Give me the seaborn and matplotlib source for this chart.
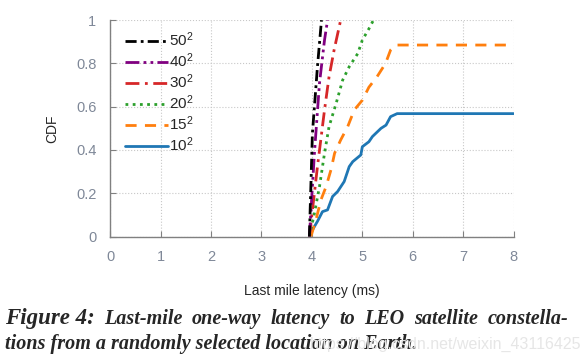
import pandas as pd
import matplotlib.pyplot as plt
import seaborn as sns

# CDF points, one pair of lists per constellation size
x_10 = [3.96, 4.01, 4.11, 4.21, 4.31, 4.41, 4.51, 4.64, 4.74, 4.81, 4.97, 5.0, 5.13, 5.2, 5.37, 5.47, 5.56, 5.69, 8.0]
y_10 = [0, 0.03, 0.07, 0.115, 0.123, 0.185, 0.208, 0.254, 0.323, 0.346, 0.377, 0.415, 0.438, 0.462, 0.5, 0.515, 0.554, 0.568, 0.568]
x_15 = [3.98, 4.08, 4.18, 4.28, 4.38, 4.45, 4.57, 4.71, 4.84, 5.0, 5.13, 5.29, 5.46, 5.56, 5.66, 8.0]
y_15 = [0, 0.077, 0.17, 0.23, 0.31, 0.385, 0.446, 0.508, 0.585, 0.63, 0.69, 0.738, 0.8, 0.862, 0.885, 0.885]
x_20 = [3.95, 4.05, 4.15, 4.25, 4.34, 4.48, 4.61, 4.74, 4.91, 5.0, 5.13, 5.22]
y_20 = [0, 0.108, 0.23, 0.385, 0.508, 0.615, 0.723, 0.785, 0.846, 0.908, 0.96, 1.0]
x_30 = [3.95, 4.11, 4.25, 4.34, 4.44, 4.57]
y_30 = [0, 0.323, 0.585, 0.738, 0.862, 1.0]
x_40 = [3.95, 4.05, 4.15, 4.25, 4.31]
y_40 = [0, 0.385, 0.708, 0.908, 1.0]
x_50 = [3.95, 4.01, 4.11, 4.19]
y_50 = [0, 0.477, 0.785, 1.0]

labels = ['$10^2$', '$15^2$', '$20^2$', '$30^2$', '$40^2$', '$50^2$']
xs = [x_10, x_15, x_20, x_30, x_40, x_50]
ys = [y_10, y_15, y_20, y_30, y_40, y_50]
colors = ['#1f77b4', '#ff7f0e', '#2ca02c', '#d62728', '#800080', '#000000']
dashes = [(None, None), (4, 3), (1, 1.6), (5, 2, 1, 2), (5, 1.5, 1, 1.5, 1, 1.5), (4, 1.5, 1, 1.5)]

caption_head = 'Figure 4:'
caption_line1 = 'Last-mile one-way latency to LEO satellite constella-'
caption_line2 = 'tions from a randomly selected location on Earth.'

sns.set_style('white')
plt.rcParams['font.family'] = ['Liberation Sans', 'DejaVu Sans']
plt.rcParams['mathtext.default'] = 'regular'

fig = plt.figure(figsize=(5.83, 3.6), dpi=100)
ax = fig.add_axes([0.189, 0.343, 0.692, 0.601])

handles = {}
for x, y, lab, c, d in zip(xs, ys, labels, colors, dashes):
    df = pd.DataFrame({'latency': x, 'cdf': y})
    sns.lineplot(data=df, x='latency', y='cdf', sort=False, estimator=None,
                 color=c, linewidth=2, ax=ax, label=lab)
    line = ax.get_lines()[-1]
    if d[0] is not None:
        line.set_dashes(d)
    handles[lab] = line

ax.set_xlim(0, 8)
ax.set_ylim(0, 1)
ax.set_xticks(range(0, 9))
ax.set_yticks([0, 0.2, 0.4, 0.6, 0.8, 1.0])
ax.set_yticklabels(['0', '0.2', '0.4', '0.6', '0.8', '1'])
ax.grid(True, linestyle=':', color='#c8c8c8', linewidth=0.8)
for s in ['top', 'right']:
    ax.spines[s].set_visible(False)
for s in ['left', 'bottom']:
    ax.spines[s].set_color('#808080')
    ax.spines[s].set_linewidth(1)
ax.tick_params(direction='in', length=4, color='#808080', labelcolor='#7f8898',
               labelsize=10.5, pad=10, left=True, bottom=True)
ax.set_xlabel('Last mile latency (ms)', fontsize=10, labelpad=14)
ax.set_ylabel('CDF', fontsize=10, labelpad=12)

order = ['$50^2$', '$40^2$', '$30^2$', '$20^2$', '$15^2$', '$10^2$']
ax.legend([handles[k] for k in order], order, loc='upper left', frameon=False,
          fontsize=11, handlelength=2.8, handletextpad=0.1, labelspacing=0.15,
          borderaxespad=0.3, bbox_to_anchor=(0.01, 1.0))

# caption: first line is justified across the figure width
cap = dict(family='Liberation Serif', fontweight='bold', style='italic')
words = [fig.text(0, 0.1, caption_head, fontsize=16.5, **cap)]
words += [fig.text(0, 0.1, w, fontsize=14.5, **cap) for w in caption_line1.split()]
fig.canvas.draw()
r = fig.canvas.get_renderer()
W = fig.bbox.width
widths = [t.get_window_extent(r).width / W for t in words]
left, right = 5 / W, 568 / W
gap = (right - left - sum(widths)) / (len(words) - 1)
pos = left
for t, w in zip(words, widths):
    t.set_x(pos)
    pos += w + gap
fig.text(left, 0.03, caption_line2, fontsize=14.5, **cap)
fig.text(0.998, 0.03, 'https://blog.csdn.net/weixin_43116425', ha='right',
         color='#e6e6e6', fontsize=11.5)

plt.savefig('out.png', dpi=100)
